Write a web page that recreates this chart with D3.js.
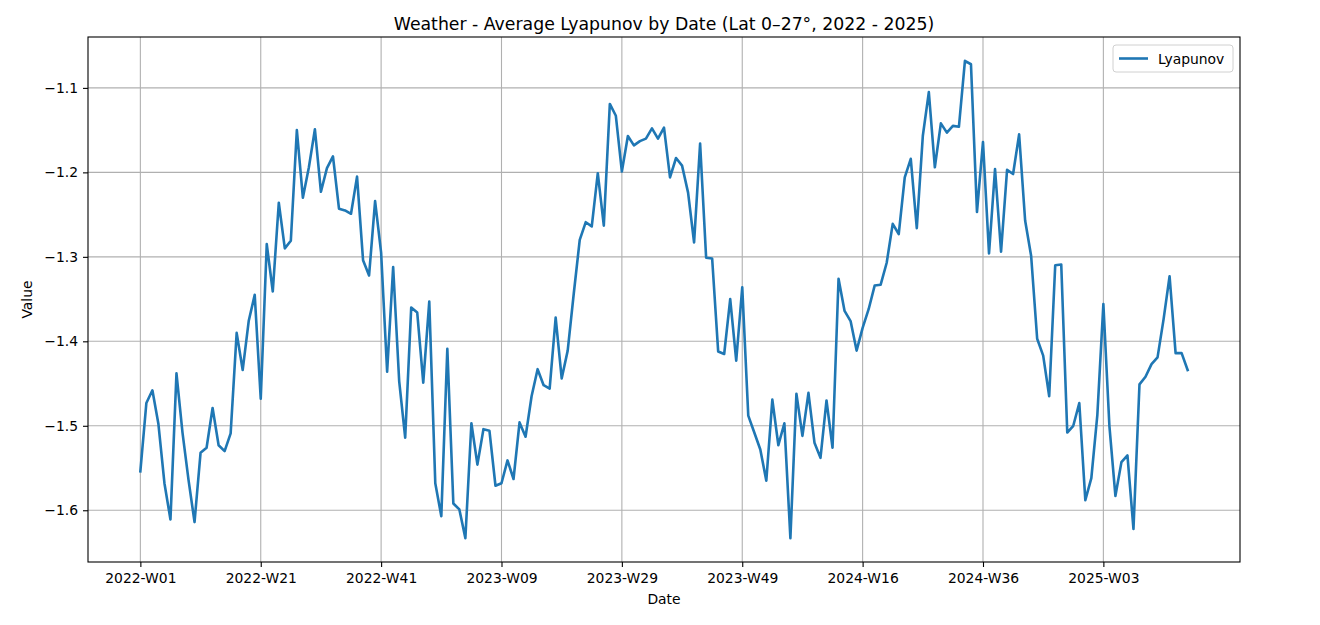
<!DOCTYPE html>
<html>
<head>
<meta charset="utf-8">
<script src="https://cdn.jsdelivr.net/npm/d3@7"></script>
<style>
  body { margin: 0; background: #fff; }
  svg { font-family: "DejaVu Sans", sans-serif; }
</style>
</head>
<body>
<svg id="chart" width="1320" height="625"></svg>
<script>
// weekly average Lyapunov values, one per week starting 2022-W01
const values = [
  -1.554, -1.473, -1.458, -1.498, -1.568, -1.611, -1.438, -1.508, -1.564, -1.614,
  -1.532, -1.526, -1.479, -1.523, -1.530, -1.509, -1.390, -1.434, -1.376, -1.345,
  -1.468, -1.285, -1.341, -1.236, -1.290, -1.281, -1.150, -1.230, -1.194, -1.149,
  -1.223, -1.195, -1.181, -1.243, -1.245, -1.249, -1.205, -1.304, -1.322, -1.234,
  -1.295, -1.436, -1.312, -1.447, -1.514, -1.360, -1.366, -1.449, -1.353, -1.568,
  -1.607, -1.409, -1.592, -1.599, -1.633, -1.497, -1.546, -1.504, -1.506, -1.571,
  -1.568, -1.541, -1.563, -1.496, -1.513, -1.465, -1.433, -1.452, -1.456, -1.372,
  -1.444, -1.411, -1.344, -1.280, -1.259, -1.264, -1.201, -1.263, -1.119, -1.133,
  -1.199, -1.157, -1.168, -1.163, -1.160, -1.148, -1.160, -1.147, -1.206, -1.183,
  -1.192, -1.224, -1.283, -1.166, -1.301, -1.302, -1.412, -1.415, -1.350, -1.423,
  -1.336, -1.488, -1.508, -1.528, -1.565, -1.469, -1.523, -1.497, -1.633, -1.462,
  -1.512, -1.461, -1.520, -1.538, -1.470, -1.526, -1.326, -1.364, -1.376, -1.411,
  -1.384, -1.362, -1.334, -1.333, -1.307, -1.261, -1.273, -1.206, -1.184, -1.266,
  -1.157, -1.105, -1.194, -1.142, -1.153, -1.145, -1.146, -1.068, -1.072, -1.247,
  -1.164, -1.296, -1.196, -1.294, -1.197, -1.202, -1.155, -1.257, -1.299, -1.397,
  -1.417, -1.465, -1.310, -1.309, -1.508, -1.500, -1.473, -1.588, -1.562, -1.487,
  -1.356, -1.500, -1.583, -1.543, -1.535, -1.622, -1.451, -1.442, -1.427, -1.419,
  -1.374, -1.323, -1.414, -1.414, -1.434
];

// x tick labels, one every 20 weeks
const xTickIndex = [0, 20, 40, 60, 80, 100, 120, 140, 160];
const xTickLabels = ["2022-W01", "2022-W21", "2022-W41", "2023-W09", "2023-W29",
                     "2023-W49", "2024-W16", "2024-W36", "2025-W03"];
const yTicks = [-1.6, -1.5, -1.4, -1.3, -1.2, -1.1];

const margin = { top: 37, right: 80, bottom: 63, left: 88 };
const width = 1320 - margin.left - margin.right;
const height = 625 - margin.top - margin.bottom;
const fs = 13.9;

const svg = d3.select("#chart");
const g = svg.append("g").attr("transform", `translate(${margin.left},${margin.top})`);

// matplotlib style 5% padding
const n = values.length - 1;
const x = d3.scaleLinear()
    .domain([-0.05 * n, n * 1.05])
    .range([0, width]);

const ymin = d3.min(values), ymax = d3.max(values);
const pad = (ymax - ymin) * 0.05;
const y = d3.scaleLinear()
    .domain([ymin - pad, ymax + pad])
    .range([height, 0]);

const fmt = v => d3.format(".1f")(v).replace("-", "\u2212");

// grid
g.append("g")
    .selectAll("line")
    .data(xTickIndex)
    .enter()
    .append("line")
    .attr("x1", d => x(d)).attr("x2", d => x(d))
    .attr("y1", 0).attr("y2", height)
    .attr("stroke", "#b0b0b0")
    .attr("stroke-width", 1.1);

g.append("g")
    .selectAll("line")
    .data(yTicks)
    .enter()
    .append("line")
    .attr("x1", 0).attr("x2", width)
    .attr("y1", d => y(d)).attr("y2", d => y(d))
    .attr("stroke", "#b0b0b0")
    .attr("stroke-width", 1.1);

// axes
const xAxis = d3.axisBottom(x)
    .tickValues(xTickIndex)
    .tickFormat((d, i) => xTickLabels[i])
    .tickSize(5)
    .tickPadding(6);

const yAxis = d3.axisLeft(y)
    .tickValues(yTicks)
    .tickFormat(fmt)
    .tickSize(5)
    .tickPadding(5);

const gx = g.append("g").attr("transform", `translate(0,${height})`).call(xAxis);
const gy = g.append("g").call(yAxis);

[gx, gy].forEach(ax => {
    ax.select(".domain").remove();
    ax.selectAll("text").attr("font-size", fs).attr("fill", "#000")
        .attr("font-family", "DejaVu Sans, sans-serif");
    ax.selectAll("line").attr("stroke", "#000").attr("stroke-width", 1.1);
});

// line
const line = d3.line()
    .x((d, i) => x(i))
    .y(d => y(d));

g.append("path")
    .datum(values)
    .attr("fill", "none")
    .attr("stroke", "#1f77b4")
    .attr("stroke-width", 2.6)
    .attr("stroke-linejoin", "round")
    .attr("stroke-linecap", "square")
    .attr("d", line);

// frame
g.append("rect")
    .attr("width", width).attr("height", height)
    .attr("fill", "none")
    .attr("stroke", "#000")
    .attr("stroke-width", 1.1);

// title + labels
svg.append("text")
    .attr("x", margin.left + width / 2).attr("y", 29.5)
    .attr("text-anchor", "middle")
    .attr("font-size", 17.3)
    .text("Weather - Average Lyapunov by Date (Lat 0\u201327\u00b0, 2022 - 2025)");

svg.append("text")
    .attr("x", margin.left + width / 2).attr("y", 604)
    .attr("text-anchor", "middle")
    .attr("font-size", fs)
    .text("Date");

svg.append("text")
    .attr("transform", `translate(32,${margin.top + height / 2}) rotate(-90)`)
    .attr("text-anchor", "middle")
    .attr("font-size", fs)
    .text("Value");

// legend
const lg = svg.append("g").attr("transform", "translate(1113,45)");
lg.append("rect")
    .attr("width", 120).attr("height", 27).attr("rx", 3)
    .attr("fill", "#fff").attr("fill-opacity", 0.8)
    .attr("stroke", "#d0d0d0");
lg.append("line")
    .attr("x1", 6).attr("x2", 35).attr("y1", 13.5).attr("y2", 13.5)
    .attr("stroke", "#1f77b4").attr("stroke-width", 2.6);
lg.append("text")
    .attr("x", 45).attr("y", 18.5)
    .attr("font-size", fs)
    .text("Lyapunov");
</script>
</body>
</html>
